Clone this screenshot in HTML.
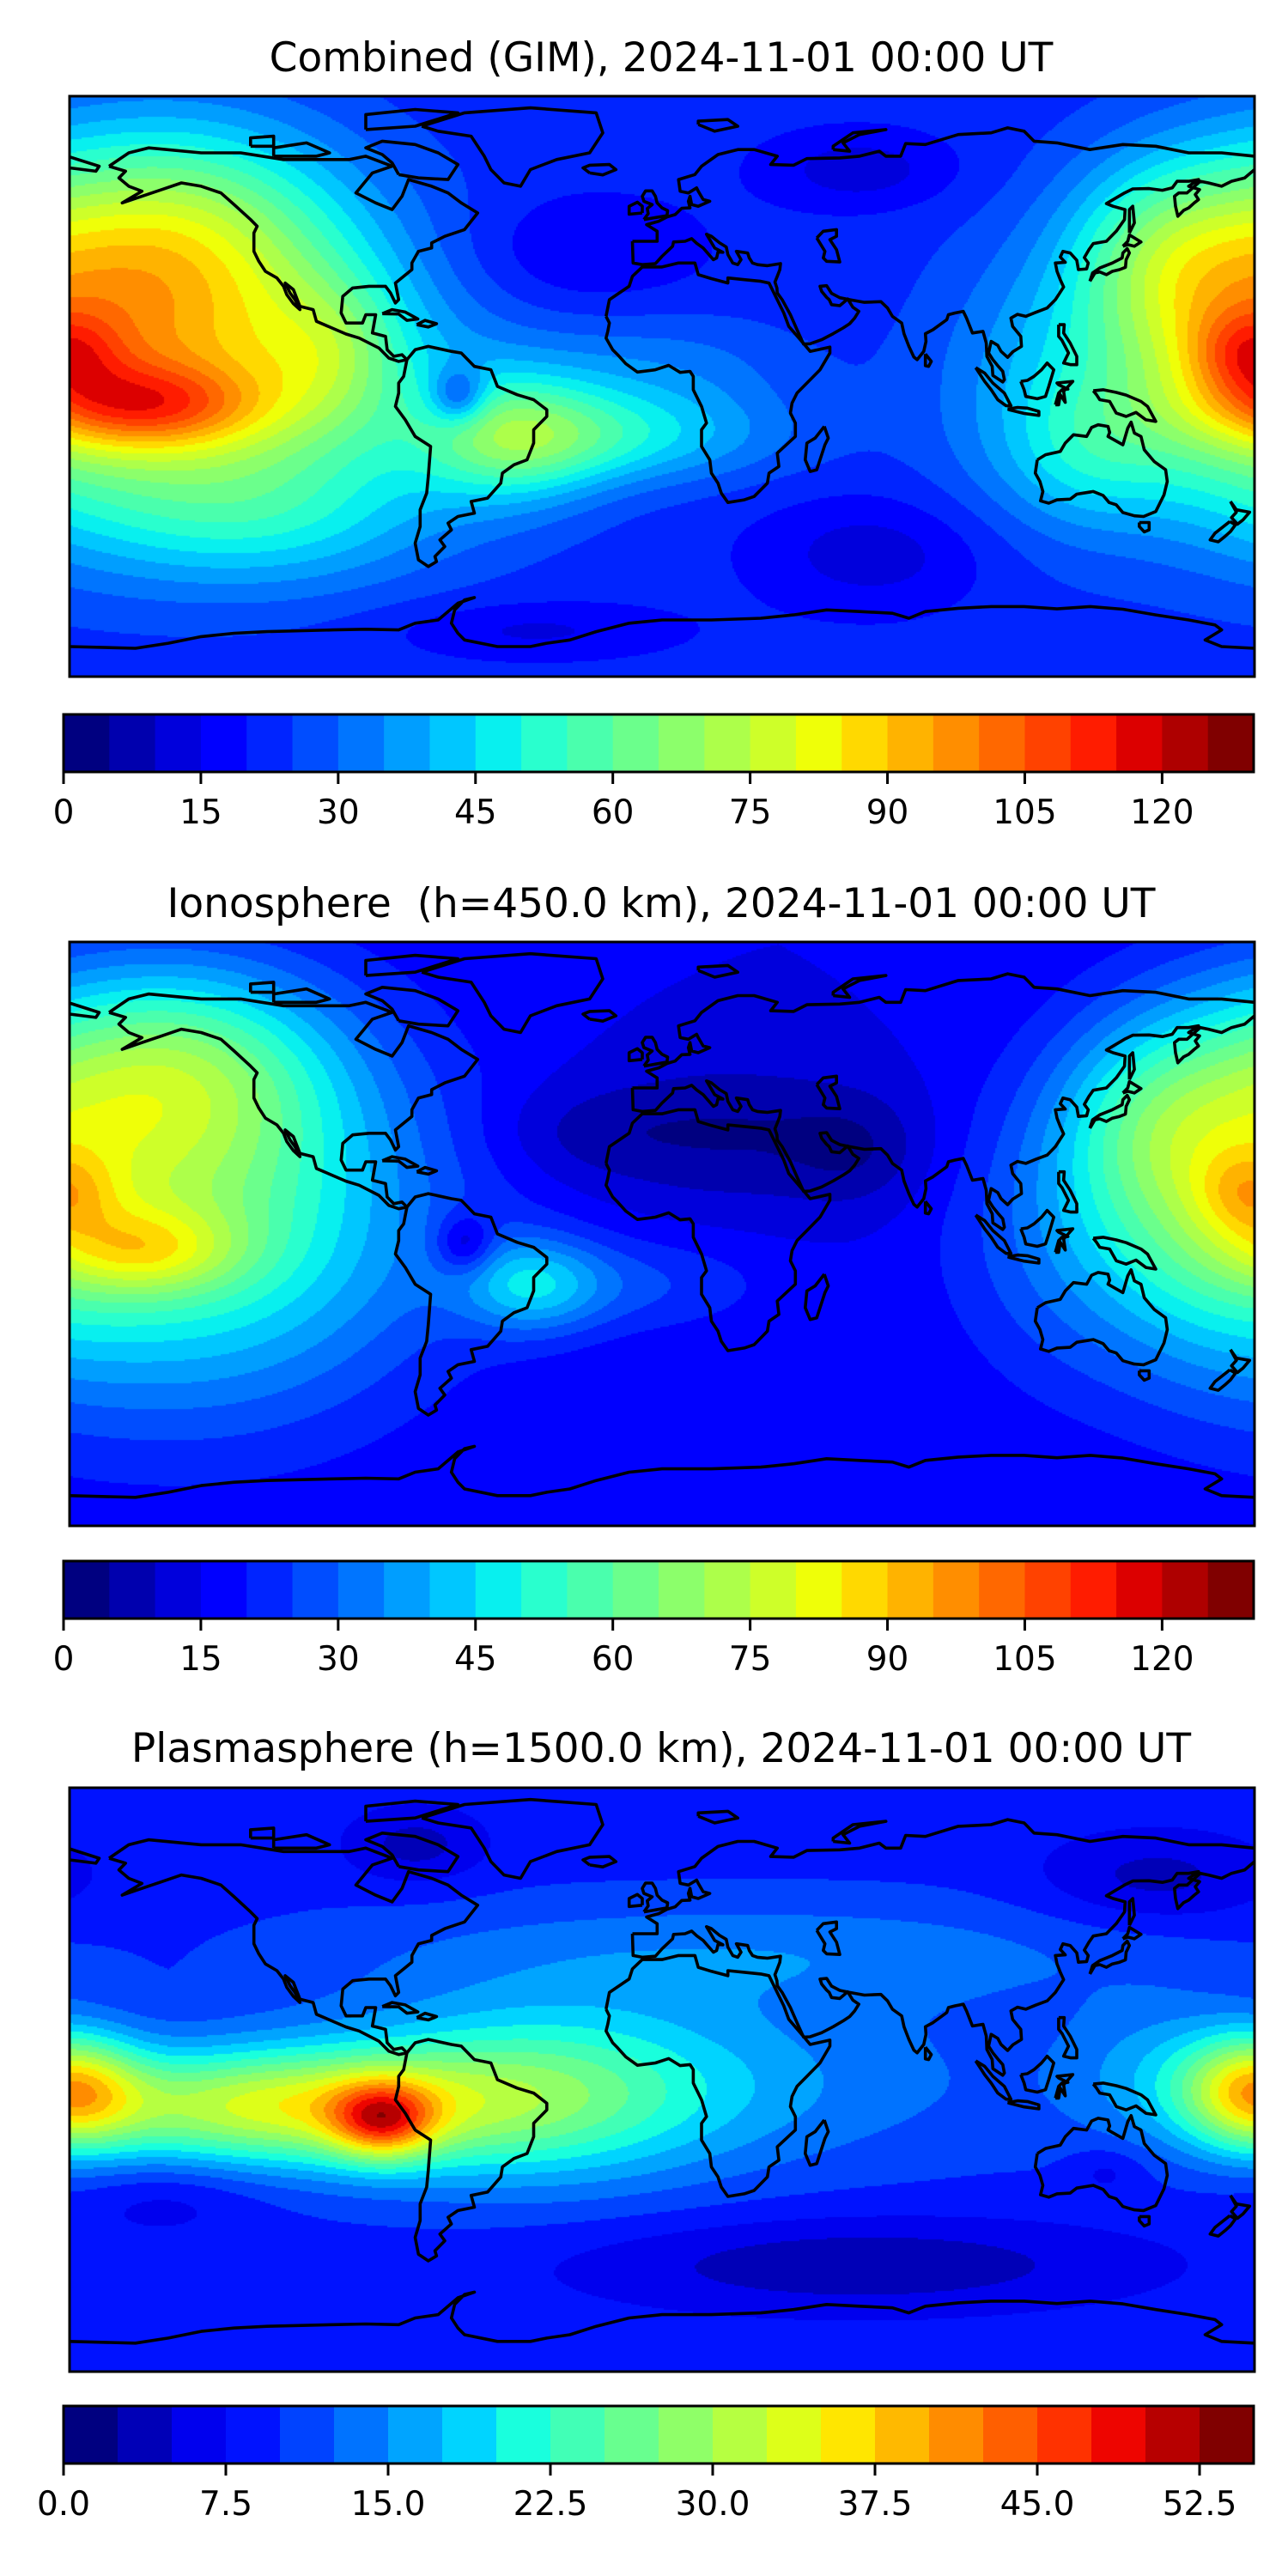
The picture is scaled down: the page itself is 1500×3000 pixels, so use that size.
<!DOCTYPE html>
<html><head><meta charset="utf-8">
<style>
html,body{margin:0;padding:0;background:#fff;}
body{width:1500px;height:3000px;position:relative;overflow:hidden;font-family:"DejaVu Sans","Liberation Sans",sans-serif;}
.title{position:absolute;left:0;width:1540px;text-align:center;font-size:47px;color:#000;white-space:nowrap;}
canvas{position:absolute;}
svg{position:absolute;left:0;top:0;}
</style></head>
<body>
<div class="title" style="top:40px;">Combined (GIM), 2024-11-01 00:00 UT</div>
<div class="title" style="top:1025px;">Ionosphere&nbsp; (h=450.0 km), 2024-11-01 00:00 UT</div>
<div class="title" style="top:2009px;">Plasmasphere (h=1500.0 km), 2024-11-01 00:00 UT</div>
<canvas id="c1" width="1380" height="676" style="left:81px;top:112px;"></canvas>
<canvas id="c2" width="1380" height="680" style="left:81px;top:1097px;"></canvas>
<canvas id="c3" width="1380" height="680" style="left:81px;top:2082px;"></canvas>
<svg id="ov" width="1500" height="3000"></svg>
<script>
// ---- colorbar data ----
const levels1 = [0,5,10,15,20,25,30,35,40,45,50,55,60,65,70,75,80,85,90,95,100,105,110,115,120,125,130];
const ticks1 = [0,15,30,45,60,75,90,105,120];
const tickLabels1 = ["0","15","30","45","60","75","90","105","120"];
const levels3 = [0,2.5,5,7.5,10,12.5,15,17.5,20,22.5,25,27.5,30,32.5,35,37.5,40,42.5,45,47.5,50,52.5,55];
const ticks3 = [0,7.5,15,22.5,30,37.5,45,52.5];
const tickLabels3 = ["0.0","7.5","15.0","22.5","30.0","37.5","45.0","52.5"];

// ---- field blobs (lon, lat, amplitude, lon-width, lat-width) ----
const base1 = 22;
const blobLon1 = [-157,-145,-150,178,170,150,115,130,-45,-15,0,-120,-25,60,65,-40,-62,-100];
const blobLat1 = [-6,0,45,10,15,40,0,-20,-15,-15,5,-40,40,65,-50,-73,-3,10];
const blobAmp1 = [33,50,45,22,20,20,12,12,28,22,10,14,-8,-10,-10,-8,-22,15];
const blobSx1  = [26,50,38,12,25,20,25,18,20,35,30,40,25,20,25,30,6,15];
const blobSy1  = [9,30,25,9,30,20,30,15,14,10,12,15,12,8,12,6,6,15];

const base2 = 15;
const blobLon2 = [-157,-145,-150,178,165,145,120,-40,20,60,-60,-10,-25];
const blobLat2 = [-5,5,50,12,15,35,0,-15,30,25,-3,-15,30];
const blobAmp2 = [24,45,35,17,24,15,10,22,-10,-8,-16,10,-6];
const blobSx2  = [20,50,35,11,25,20,25,15,30,15,6,30,20];
const blobSy2  = [9,38,22,9,32,20,30,10,15,12,6,10,10];

const base3 = 9;
const blobLon3 = [-85,-120,-40,180,60,-75,150,135,0,150,-150,30];
const blobLat3 = [-12,-8,-5,-3,-55,70,60,-27,0,5,-35,38];
const blobAmp3 = [19,22,12,22,-6,-5,-5,-3,6,5,-3,5];
const blobSx3  = [11,45,40,15,60,15,25,8,80,20,20,90];
const blobSy3  = [8,12,18,12,10,8,10,5,20,15,8,12];

const LAT_TOP = 87, LAT_BOT = -87;

function jet(t){
  function seg(pts){for(let i=1;i<pts.length;i++){if(t<=pts[i][0]){const a=pts[i-1],b=pts[i];return a[1]+(b[1]-a[1])*(t-a[0])/(b[0]-a[0]);}}return pts[pts.length-1][1];}
  const r=seg([[0,0],[0.35,0],[0.66,1],[0.89,1],[1,0.5]]);
  const g=seg([[0,0],[0.125,0],[0.375,1],[0.64,1],[0.91,0],[1,0]]);
  const b=seg([[0,0.5],[0.11,1],[0.34,1],[0.65,0],[1,0]]);
  return [Math.round(r*255),Math.round(g*255),Math.round(b*255)];
}
function binColors(levels){const n=levels.length-1;const c=[];for(let i=0;i<n;i++)c.push(jet(i/(n-1)));return c;}

function drawField(id,base,lon,lat,amp,sx,sy,levels){
  const cv=document.getElementById(id),ctx=cv.getContext('2d');
  const W=cv.width,H=cv.height,img=ctx.createImageData(W,H),d=img.data;
  const cols=binColors(levels),n=levels.length-1,lo=levels[0],step=levels[1]-levels[0];
  const S=2;
  for(let y=0;y<H;y+=S){
    const la=LAT_TOP-(y+0.5)/H*(LAT_TOP-LAT_BOT);
    for(let x=0;x<W;x+=S){
      const lo_=-180+(x+0.5)/W*360;
      let v=base;
      for(let k=0;k<lon.length;k++){
        let dl=lo_-lon[k]; if(dl>180)dl-=360; if(dl<-180)dl+=360;
        const a=dl/sx[k],b=(la-lat[k])/sy[k];
        v+=amp[k]*Math.exp(-(a*a+b*b)/2);
      }
      let i=Math.floor((v-lo)/step); if(i<0)i=0; if(i>n-1)i=n-1;
      const c=cols[i];
      for(let yy=y;yy<Math.min(y+S,H);yy++)for(let xx=x;xx<Math.min(x+S,W);xx++){
        const p=(yy*W+xx)*4;d[p]=c[0];d[p+1]=c[1];d[p+2]=c[2];d[p+3]=255;}
    }
  }
  ctx.putImageData(img,0,0);
}
drawField('c1',base1,blobLon1,blobLat1,blobAmp1,blobSx1,blobSy1,levels1);
drawField('c2',base2,blobLon2,blobLat2,blobAmp2,blobSx2,blobSy2,levels1);
drawField('c3',base3,blobLon3,blobLat3,blobAmp3,blobSx3,blobSy3,levels3);

// ---- coastlines (lon,lat) ----
const coasts = {
 'north-america':[[-168,66],[-162,70],[-156,71.5],[-140,70],[-128,70],[-115,68],[-95,68],[-90,69],[-82,66],[-88,64],[-93,58],[-87,55],[-82,53],[-79,57],[-77,62],[-70,60],[-65,58],[-61,55],[-56,52],[-60,47],[-66,45],[-70,43],[-70,41.5],[-74,40.5],[-76,37],[-76,35],[-81,31],[-80,26],[-81,25],[-82.5,28],[-84,30],[-89,30],[-94,29.5],[-97,27],[-97.5,22],[-96,19],[-91,19],[-90,21.5],[-87,21.5],[-88,16],[-84,15],[-83.5,11],[-81.5,9],[-79,9.5],[-77.5,8],[-80,7.5],[-83,8.5],[-86,11.5],[-92,14.5],[-96,15.7],[-105,19.5],[-106,23],[-110,24],[-112,29],[-114.5,31],[-113,28],[-111.5,26],[-110,23],[-112,24.8],[-114,27.5],[-115,30],[-117,32.5],[-120.5,34.5],[-122.5,37.5],[-124,40.5],[-124,46],[-123,48],[-125,50],[-130,54.5],[-134,58],[-140,60],[-146,61],[-152,59],[-158,57],[-164,55],[-158,58.5],[-162,60],[-165,62.5],[-163,64.5],[-168,66]],
 'greenland':[[-73,78],[-60,82],[-40,83.5],[-20,82],[-18,76],[-22,70],[-32,68],[-40,65],[-43,60],[-48,61],[-52,65],[-54,69],[-58,75],[-68,76.5],[-73,78]],
 'south-america':[[-77.5,8],[-75,11],[-71,12],[-64,10.5],[-61,10],[-57,6],[-52,5],[-50,0],[-44,-2.5],[-39,-4],[-35,-7],[-35,-9],[-39,-13],[-39,-17],[-41,-22],[-45,-23.5],[-48.5,-26],[-49,-29],[-53,-33.5],[-58,-34.5],[-57,-38],[-62,-39],[-65,-41],[-64,-43],[-67.5,-46],[-66,-48],[-69,-51],[-68.5,-52.5],[-71,-54],[-74,-52],[-75,-47],[-73.5,-42],[-73.5,-37],[-71.5,-32],[-71,-27],[-70.3,-18],[-75,-15],[-78,-10],[-81,-6],[-80,-2],[-80,1],[-78.5,3],[-77.5,8]],
 'africa':[[-17,21],[-16,26],[-10,30],[-9,33],[-6,35.8],[0,35.8],[5,37],[10,37],[11,33.5],[15,32.3],[20,31],[20,32.5],[25,32],[30,31.5],[32.5,31],[34,28],[37,22],[38.5,18],[42,14],[43.3,12.5],[45,10.5],[51,11.8],[51,10],[48,5],[44,1],[41,-2],[39.5,-5],[39,-8],[40.5,-11],[40.5,-15],[35,-20],[35.5,-24],[32.5,-26],[32,-29],[28,-33],[25,-34],[20,-34.8],[18,-32],[17,-29],[15,-26],[14.5,-22],[12,-18],[12,-13],[13.5,-11],[12,-6],[9.5,-1],[9.5,3],[8.5,4.5],[5.5,4.2],[2,6.3],[-2,5],[-7.5,4.3],[-11,6.8],[-13.5,9.5],[-15,11],[-17,14.5],[-16.5,16.5],[-16,19],[-17,21]],
 'eurasia-south':[[-9,43.5],[-8.8,37],[-6,36.5],[-2,36.8],[0,39],[3.2,42],[3.5,43.3],[7,43.5],[9,44.3],[10.5,42.9],[12.5,41.5],[15.6,38],[16.6,38.5],[17,40.3],[18.5,40.2],[16,41.5],[13.5,45.6],[15,45],[17.5,43],[19.5,41.8],[20,39.5],[21.5,37],[23,36.5],[24,38],[22.6,40.5],[26,40],[26.5,38.5],[27.5,37],[29,36.5],[32,36.2],[36,36.8],[35.8,35],[35,33],[34.3,31.3],[34.9,29.5],[35,28],[36.5,26],[39,21.5],[41,17],[43,12.7],[45,12.8],[48.5,14],[52,15.8],[55,17.5],[57,18.8],[58.5,20.5],[59.8,22.5],[58,23.7],[56.4,26.2],[54,24.2],[51.5,24.5],[50.8,26],[50,26.7],[48.5,28.5],[48,30],[50,30.2],[51.5,27.9],[54,26.6],[57,26],[61.5,25.2],[66.5,25.4],[68.5,23.5],[70,21],[72.8,19],[73.5,15.8],[75,12],[76.5,8.8],[77.5,8],[79.5,10.5],[80.2,13.5],[80,15.8],[82.3,17],[86.5,20],[87,21.5],[89,22],[91.5,22.5],[92.5,20.5],[94.3,16],[97.5,16.5],[98.5,13],[98.7,9],[100.3,6],[100.5,3.3],[103.5,1.3],[104,2],[103.5,4.5],[102,6.2],[100.5,8],[99.2,10],[100,13.5],[102,12.3],[103,10.5],[105,8.7],[106.6,10.4],[109.2,12],[109,15],[106.5,18],[106,20.5],[108,21.6],[110.5,21],[113.5,22.2],[117,23.5],[119.5,26],[122,29.8],[121,32],[120,34.5],[119.5,37],[122.5,37.2],[121,38.8],[121.8,40.5],[124,40],[126,37.8],[126.5,35],[129,35.2],[129.5,37],[128.3,38.6],[129.7,41],[131,42.8],[135,43.5],[138,46.5],[140.5,50],[140.7,53],[137,54],[135,54.8],[140.5,58],[143,59.2],[148,59.3],[152,58.8],[155,59.5],[156.5,61.5],[160,61.5],[163,62],[160,60],[163.3,59],[162,57.5],[163,56],[161.7,55],[160,53.5],[158.5,52.8],[156.7,51],[156,54],[155.7,57],[157,58],[159.5,58],[163.5,61.5],[166,61],[170,60],[173,61.5],[177,62.5],[180,65]],
 'eurasia-north':[[180,69],[170,70],[160,70],[150,72],[140,72.5],[130,71],[120,73],[113,73.5],[110,76.5],[105,77.5],[100,76],[90,75.5],[80,72.5],[74,72.8],[72.5,69],[68,69],[66,70.5],[60,69],[54,68.5],[44,68.3],[40,66.3],[33,66.5],[35,69],[28,71],[23,71],[17,69.5],[12,66],[10,63.5],[5,62],[5.5,58.5],[8,58],[10.5,59.5],[11,58.5],[12.5,56],[14.5,55.5],[11,54],[9,54.5],[8.5,57],[8,55.5],[8.5,53.5],[6,53.4],[4,51.5],[1.5,50.8],[-1,49.5],[-4.7,48.5],[-1.5,46.5],[-1.5,43.5],[-9,43.5]],
 'chukotka':[[-180,65.5],[-172,64.5],[-171,66],[-180,68.8]],
 'britain':[[-5.5,50],[1.5,51.2],[1.7,52.7],[0,53.5],[-1.5,55],[-2,57],[-3,58.6],[-5,58.6],[-6,57],[-5.5,55.5],[-3,54.5],[-4.5,53.3],[-4.2,51.8],[-5.5,50]],
 'ireland':[[-6,52],[-6,54],[-7.5,55.2],[-10,54],[-10,51.6],[-6,52]],
 'iceland':[[-22,64],[-24,65.5],[-22,66.3],[-16,66.5],[-14,65],[-18,63.4],[-22,64]],
 'honshu':[[130,31.5],[131.5,34],[133,34.3],[135,33.5],[136.8,34.5],[139,35],[140.8,35.7],[141,38],[142,40],[141.3,41.3],[140,40],[139.8,38.5],[136.8,37],[133,35.5],[130.8,34],[130,31.5]],
 'hokkaido':[[140,42],[141.5,42.5],[143.5,42],[145.5,43.3],[142,45.4],[141.5,43.5],[140,42]],
 'philippines':[[120.5,18.5],[122.2,18.5],[122,16],[124,13],[126,9],[126,6.5],[124.2,6.5],[122,7],[123.5,10],[121.5,13.8],[120.5,15],[120.5,18.5]],
 'borneo':[[109,1.5],[110,-1],[110.5,-3],[114,-3.7],[116.5,-3],[117.5,0],[119,5],[117,7],[115.3,5],[113,3],[111,1.8],[109,1.5]],
 'sumatra':[[95.3,5.6],[98,4],[100.5,1],[104,-2],[106,-5.8],[104.5,-5.8],[102,-4],[100,-1],[98,1.5],[95.3,5.6]],
 'java':[[105,-6.8],[108,-6.3],[111,-6.5],[114.5,-7.5],[114.5,-8.7],[110,-8.1],[105.5,-7],[105,-6.8]],
 'sulawesi':[[119.5,-5.5],[120.5,-2],[121.5,-1],[123.3,-0.8],[120.5,0.5],[120,1],[124.8,1.5],[122,-1.5],[122.5,-4.8],[121,-2.5],[120.5,-5.5],[119.5,-5.5]],
 'new-guinea':[[131,-1.3],[134,-1],[138,-1.8],[141,-2.6],[145.5,-4.5],[147.5,-6],[150,-10.5],[147,-10],[144,-7.8],[141,-9],[138,-8],[136,-4.5],[133,-4],[132,-2.5],[131,-1.3]],
 'australia':[[114,-22],[116.5,-20.5],[121,-19.5],[122.5,-17],[125,-14.5],[129,-15],[130.5,-12.3],[132.5,-11.5],[135.5,-12],[136,-13.8],[135.5,-15],[140,-17.5],[141.5,-12.5],[142.5,-10.7],[143.5,-14],[145.5,-15],[146.5,-19],[149.5,-22.5],[153,-25],[153.5,-28.5],[152.5,-32.5],[150,-37.5],[146.3,-39],[143.5,-38.8],[140,-37.8],[138,-35.5],[135.8,-34.8],[134,-32.7],[131,-31.5],[126,-32.3],[124,-33.8],[120,-34],[117.5,-35],[115,-34.3],[115.7,-31.5],[114.8,-28.5],[113.4,-26],[114,-22]],
 'tasmania':[[145,-40.8],[148,-40.8],[148,-43],[146.5,-43.6],[145,-42],[145,-40.8]],
 'nz-north':[[172.7,-34.5],[174.5,-37],[178.5,-37.7],[176.5,-40],[174.8,-41.3],[173,-39.3],[174.5,-37.7],[172.7,-34.5]],
 'nz-south':[[172.5,-40.5],[174.2,-41.5],[172.7,-43.5],[171,-45],[169,-46.6],[166.5,-46],[168,-44],[172.5,-40.5]],
 'madagascar':[[49.3,-12],[50.5,-15.5],[49.5,-17.5],[47,-25],[45,-25.5],[43.5,-22],[44,-17],[46.5,-15.5],[49.3,-12]],
 'antarctica':[[-180,-78],[-160,-78.5],[-150,-77],[-140,-75],[-130,-74],[-120,-73.5],[-100,-73],[-90,-72.8],[-80,-73],[-75,-71],[-68,-70],[-62,-65],[-57,-63.3],[-60,-64],[-63,-67],[-64,-71],[-62,-74],[-60,-76],[-50,-78],[-40,-78],[-35,-77],[-28,-76],[-20,-73.5],[-10,-71],[0,-70],[15,-70],[30,-69.5],[40,-68.5],[50,-67],[60,-67.5],[70,-68],[75,-69.5],[80,-67.5],[90,-66.5],[100,-66],[110,-66],[120,-66.7],[130,-66],[140,-66.8],[150,-68.5],[160,-70],[168,-71.5],[170,-73],[165,-76],[170,-78],[180,-78.5]],
 'cuba':[[-85,21.8],[-82,23],[-78,22.3],[-74.2,20.2],[-77.5,19.8],[-80,21.7],[-85,21.8]],
 'hispaniola':[[-74.5,18.5],[-72,19.8],[-68.5,18.8],[-71,17.8],[-74.5,18.5]],
 'baffin':[[-80,63.5],[-74,62.5],[-65,62],[-62,66.5],[-68,70],[-75,72.5],[-85,73.5],[-90,71.5],[-85,69.5],[-82,67],[-80,63.5]],
 'ellesmere':[[-90,77],[-75,78],[-62,82],[-75,83],[-90,81.5],[-90,77]],
 'victoria-island':[[-118,69],[-105,69],[-101,70],[-108,73],[-118,71.5],[-118,69]],
 'banks-island':[[-125,72],[-118,72],[-118,75],[-125,74.5],[-125,72]],
 'svalbard':[[11,78.5],[16,76.5],[23,78],[20,80],[11,79.5],[11,78.5]],
 'novaya-zemlya':[[52,71],[57,70.5],[55,73],[60,75.5],[68,77],[58,76],[52,72],[52,71]],
 'sri-lanka':[[80,9.7],[81.8,7.5],[81,6],[80,6.2],[80,9.7]],
 'sakhalin':[[142,46],[143.5,49],[143,54],[142,53],[142,46]],
 'caspian':[[47,44.5],[49,46.5],[53,47],[53,45],[51,44],[53,41],[54,37.3],[50,37.5],[49,38.5],[49.5,40.5],[47,44.5]]
};

const NS='http://www.w3.org/2000/svg';
const ov=document.getElementById('ov');
function mk(tag,attrs){const e=document.createElementNS(NS,tag);for(const k in attrs)e.setAttribute(k,attrs[k]);return e;}

const panels=[{x:81,y:112,w:1380,h:676,name:'combined'},{x:81,y:1097,w:1380,h:680,name:'ionosphere'},{x:81,y:2082,w:1380,h:680,name:'plasmasphere'}];
panels.forEach(p=>{
  const g=mk('g',{});
  
  
  for(const key in coasts){
    const pts=coasts[key].map(c=>(p.x+(c[0]+180)/360*p.w).toFixed(1)+','+(p.y+(LAT_TOP-c[1])/(LAT_TOP-LAT_BOT)*p.h).toFixed(1)).join(' ');
    const pl=mk('polyline',{points:pts,fill:'none',stroke:'#000','stroke-width':3.6,'stroke-linejoin':'round'});
    
    
    g.appendChild(pl);
  }
  ov.appendChild(g);
  const fr=mk('rect',{x:p.x,y:p.y,width:p.w,height:p.h,fill:'none',stroke:'#000','stroke-width':3});
  
  
  ov.appendChild(fr);
});

function colorbar(y,levels,ticks,labels,name){
  const x0=74,x1=1460,h=67,n=levels.length-1,cols=binColors(levels);
  const lo=levels[0],hi=levels[n];
  const sx=v=>x0+(v-lo)/(hi-lo)*(x1-x0);
  const g=mk('g',{});
  
  
  for(let i=0;i<n;i++){
    const r=mk('rect',{x:sx(levels[i]),y:y,width:sx(levels[i+1])-sx(levels[i])+0.6,height:h,fill:'rgb('+cols[i].join(',')+')'});
    
    
    g.appendChild(r);
  }
  const fr=mk('rect',{x:x0,y:y,width:x1-x0,height:h,fill:'none',stroke:'#000','stroke-width':3});
  
  
  g.appendChild(fr);
  ticks.forEach((t,i)=>{
    const X=sx(t);
    const l=mk('line',{x1:X,x2:X,y1:y+h,y2:y+h+14,stroke:'#000','stroke-width':3});
    
    
    g.appendChild(l);
    const tx=mk('text',{x:X,y:y+h+60,'text-anchor':'middle','font-size':39,'font-family':'DejaVu Sans, Liberation Sans, sans-serif',fill:'#000'});
    tx.textContent=labels[i];
    
    
    g.appendChild(tx);
  });
  ov.appendChild(g);
}
colorbar(832,levels1,ticks1,tickLabels1,'combined-colorbar');
colorbar(1818,levels1,ticks1,tickLabels1,'ionosphere-colorbar');
colorbar(2802,levels3,ticks3,tickLabels3,'plasmasphere-colorbar');
</script>
</body></html>
